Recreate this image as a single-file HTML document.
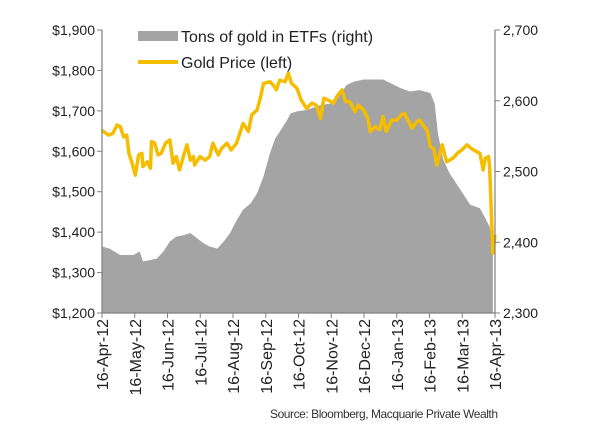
<!DOCTYPE html>
<html><head><meta charset="utf-8"><style>
body{margin:0;background:#fff;}
svg{display:block;font-family:"Liberation Sans",Arial,sans-serif;}
</style></head><body>
<svg id="chart" width="600" height="436"></svg>
<script>
const monthLabels=["16-Apr-12","16-May-12","16-Jun-12","16-Jul-12","16-Aug-12","16-Sep-12","16-Oct-12","16-Nov-12","16-Dec-12","16-Jan-13","16-Feb-13","16-Mar-13","16-Apr-13"];
const leftTicks=[1200,1300,1400,1500,1600,1700,1800,1900];
const rightTicks=[2300,2400,2500,2600,2700];
const priceDays=[0,6,10,14,17,20,23,25,28,31,34,37,38,42,45,46,49,52,55,59,63,66,69,72,76,79,82,85,86,91,96,100,103,108,111,116,120,125,131,136,139,144,147,150,156,159,162,165,170,173,176,181,185,190,195,199,203,206,210,215,218,223,226,230,235,238,243,247,249,254,258,261,264,269,274,278,281,284,288,292,295,298,302,305,308,311,316,320,326,330,334,339,343,348,351,354,356,359,360,363,365];
const priceVals=[1652,1640,1644,1665,1661,1636,1640,1595,1570,1541,1591,1595,1562,1574,1558,1624,1620,1591,1595,1620,1628,1570,1587,1554,1591,1616,1578,1587,1566,1587,1578,1587,1620,1591,1607,1620,1603,1620,1669,1649,1690,1702,1731,1768,1772,1764,1752,1776,1772,1793,1768,1756,1727,1706,1719,1714,1681,1731,1727,1719,1735,1752,1723,1723,1698,1714,1702,1681,1649,1661,1653,1686,1649,1677,1677,1690,1694,1677,1657,1673,1677,1665,1652,1611,1607,1566,1616,1574,1583,1595,1603,1616,1607,1599,1595,1554,1583,1587,1562,1348,1393];
const etfDays=[0,7,17,29,35,38,45,51,57,63,69,76,82,88,94,100,107,113,119,125,131,138,144,150,156,161,165,172,175,181,190,203,212,221,227,234,243,261,268,277,286,295,305,309,312,317,323,330,336,342,351,356,360,363];
const etfVals=[2394,2391,2382,2382,2387,2373,2375,2377,2387,2401,2408,2410,2413,2406,2399,2394,2391,2401,2413,2431,2446,2455,2469,2493,2526,2547,2556,2573,2582,2585,2587,2594,2596,2608,2622,2627,2630,2630,2625,2618,2613,2615,2611,2596,2554,2516,2497,2481,2467,2453,2448,2434,2422,2398];

const NS="http://www.w3.org/2000/svg";
const svg=document.getElementById('chart');
const L=102,R=495,T=30,B=313;
const x=d=>L+d/365*(R-L);
const yl=v=>B-(v-1200)/700*(B-T);
const yr=v=>B-(v-2300)/400*(B-T);
function mk(tag,at,txt){const e=document.createElementNS(NS,tag);for(const k in at)e.setAttribute(k,at[k]);if(txt!==undefined)e.textContent=txt;svg.appendChild(e);return e;}

let d=`M${x(etfDays[0])},${B}`;
etfDays.forEach((dd,i)=>{d+=` L${x(dd)},${yr(etfVals[i])}`;});
d+=` L${x(etfDays[etfDays.length-1])},${B} Z`;
const area=mk('path',{d:d,fill:'#a4a4a4'});



const pts=priceDays.map((dd,i)=>`${x(dd)},${yl(priceVals[i])}`).join(' ');
const line=mk('polyline',{points:pts,fill:'none',stroke:'#f5bd00','stroke-width':3.5,'stroke-linejoin':'round'});



const ax=mk('g',{stroke:'#808080','stroke-width':1.2});


[[L,T,L,B],[R,T,R,B],[L,B,R,B]].forEach(a=>{const l=document.createElementNS(NS,'line');l.setAttribute('x1',a[0]);l.setAttribute('y1',a[1]);l.setAttribute('x2',a[2]);l.setAttribute('y2',a[3]);ax.appendChild(l);});

leftTicks.forEach(v=>{
  mk('line',{x1:L-5,y1:yl(v),x2:L,y2:yl(v),stroke:'#808080'});
  const t=mk('text',{x:L-7,y:yl(v)+5,'text-anchor':'end','font-size':14,fill:'#222'},'$'+v.toLocaleString('en-US'));
  
  
});
rightTicks.forEach(v=>{
  mk('line',{x1:R,y1:yr(v),x2:R+5,y2:yr(v),stroke:'#808080'});
  const t=mk('text',{x:R+8,y:yr(v)+5,'font-size':14,fill:'#222'},v.toLocaleString('en-US'));
  
  
});
monthLabels.forEach((m,i)=>{
  const xx=L+i*(R-L)/12;
  mk('line',{x1:xx,y1:B,x2:xx,y2:B+5,stroke:'#808080'});
  const t=mk('text',{x:0,y:0,transform:`translate(${xx+6},${B+6}) rotate(-90)`,'text-anchor':'end','font-size':16,fill:'#222'},m);
  
  
});

const lg=mk('g',{});


mk('rect',{x:138,y:31,width:40,height:10,fill:'#a4a4a4'});
const t1=mk('text',{x:181,y:42,'font-size':16,fill:'#222'},'Tons of gold in ETFs (right)');


mk('line',{x1:138,y1:62,x2:178,y2:62,stroke:'#f5bd00','stroke-width':4});
const t2=mk('text',{x:181,y:68,'font-size':16,fill:'#222'},'Gold Price (left)');



const src=mk('text',{x:498,y:418,'text-anchor':'end','font-size':12,fill:'#333',textLength:228},'Source: Bloomberg, Macquarie Private Wealth');


</script>
</body></html>
